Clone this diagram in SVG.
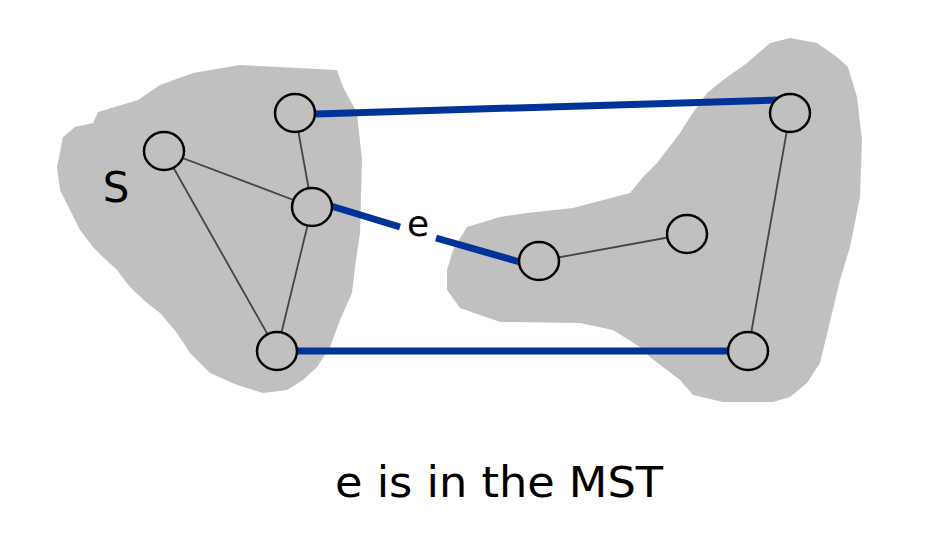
<svg xmlns="http://www.w3.org/2000/svg" width="936" height="552" viewBox="0 0 936 552">
<style>
.blob{fill:#c0c0c0;stroke:none}
.node{fill:#c0c0c0;stroke:#000;stroke-width:2.5}
.thin{stroke:#444;stroke-width:1.8;fill:none}
.mst{stroke:#003399;stroke-width:7;fill:none}
.lbl{font-family:"Comic Sans MS","DejaVu Sans","Open Sans",sans-serif;fill:#000}
</style>
<rect width="936" height="552" fill="#fff"/>
<g id="regions">
<path id="S-region" class="blob" d="M98,112 L138,100 L160,85 L193,73 L240,65 L337,70 L343,87 L357,113 L362,160 L360,233 L355,267 L352,293 L340,320 L330,347 L317,367 L303,380 L287,390 L263,393 L237,385 L210,373 L190,353 L177,333 L160,313 L147,303 L130,287 L117,270 L103,257 L93,247 L80,230 L70,210 L60,190 L57,167 L63,137 L75,127 L93,123 Z"/>
<path id="other-region" class="blob" d="M467,227 L500,217 L527,213 L573,208 L630,193 L643,177 L657,163 L680,133 L690,117 L707,93 L723,80 L747,63 L770,43 L790,38 L817,43 L837,57 L848,67 L857,97 L862,140 L860,197 L850,247 L840,280 L828,330 L820,363 L807,383 L790,397 L773,402 L723,402 L693,395 L680,380 L663,367 L650,357 L640,347 L613,330 L580,323 L500,322 L460,308 L447,290 L447,270 L453,250 Z"/>
</g>
<g id="connectors">
<line class="thin" x1="164" y1="151" x2="312" y2="207"/>
<line class="thin" x1="295" y1="113" x2="312" y2="207"/>
<line class="thin" x1="164" y1="151" x2="277" y2="351"/>
<line class="thin" x1="312" y1="207" x2="277" y2="351"/>
<line class="thin" x1="539" y1="261" x2="687" y2="234"/>
<line class="thin" x1="790" y1="113" x2="748" y2="351"/>
<line class="mst" x1="316" y1="114" x2="777" y2="100"/>
<line class="mst" x1="297" y1="351" x2="728" y2="351"/>
<line class="mst" x1="331" y1="206" x2="400" y2="227"/>
<line class="mst" x1="436" y1="238" x2="520" y2="262"/>
</g>
<g id="node-a"><ellipse class="node" cx="295" cy="113" rx="20" ry="19"/></g>
<g id="node-b"><ellipse class="node" cx="164" cy="151" rx="20" ry="19"/></g>
<g id="node-c"><ellipse class="node" cx="312" cy="207" rx="20" ry="19"/></g>
<g id="node-d"><ellipse class="node" cx="277" cy="351" rx="20" ry="19"/></g>
<g id="node-e"><ellipse class="node" cx="790" cy="113" rx="20" ry="19"/></g>
<g id="node-f"><ellipse class="node" cx="539" cy="261" rx="20" ry="19"/></g>
<g id="node-g"><ellipse class="node" cx="687" cy="234" rx="20" ry="19"/></g>
<g id="node-h"><ellipse class="node" cx="748" cy="351" rx="20" ry="19"/></g>
<g id="labels">
<text class="lbl" x="116" y="202" font-size="42" text-anchor="middle">S</text>
<text class="lbl" x="418" y="236" font-size="36" text-anchor="middle">e</text>
<text class="lbl" x="335" y="497" font-size="42" textLength="328" lengthAdjust="spacingAndGlyphs">e is in the MST</text>
</g>
</svg>
